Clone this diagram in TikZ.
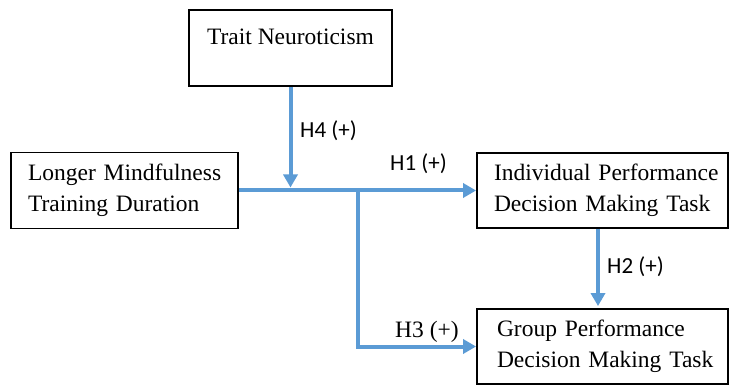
\documentclass[tikz,border=0pt]{standalone}
\usepackage{fontspec}
\setmainfont{Liberation Serif}
\newfontfamily\lblfont{Carlito}
\usetikzlibrary{arrows.meta}
\definecolor{linkblue}{HTML}{5B9BD5}
\tikzset{
  box/.style={draw=black, line width=1.8pt, rectangle, inner ysep=0pt,
    font=\fontsize{23.5}{31}\selectfont},
  twoline/.style={align=left, inner xsep=17pt},
  hlabel/.style={font=\lblfont\fontsize{23}{26}\selectfont, inner sep=0pt, anchor=west},
  slabel/.style={font=\fontsize{23.5}{26}\selectfont, inner sep=0pt, anchor=west},
  link/.style={draw=linkblue, line width=4pt, -{Triangle[length=13pt,width=14pt]}},
  plainlink/.style={draw=linkblue, line width=4pt}
}
\begin{document}
\begin{tikzpicture}[x=1pt, y=-1pt]
\useasboundingbox (0,0) rectangle (729,385);

\node[box, minimum width=203pt, inner xsep=0pt, text height=20pt, text depth=26pt, inner ysep=15pt, anchor=north]
  (trait) at (290.5,9) {Trait Neuroticism};
\node[box, twoline, minimum height=76pt, text width=193pt] (longer) at (124.5,190.5)
  {\mbox{Longer Mindfulness}\\\mbox{Training Duration}};
\node[box, twoline, minimum height=75pt, text width=217pt] (indiv) at (602.5,190.5)
  {\mbox{Individual Performance}\\\mbox{Decision Making Task}};
\node[box, align=left, inner xsep=20pt, minimum height=75pt, text width=211pt] (group) at (602.5,346.5)
  {\mbox{Group Performance}\\\mbox{Decision Making Task}};

\coordinate (branch) at (358,190.5);

\draw[plainlink] (longer.east) -- (branch);
\draw[link, shorten >=0pt] (branch) -- (indiv.west);
\draw[link] (branch) |- (group.west);
\draw[link, shorten >=3pt] (trait.south) -- (trait.south |- longer.east);
\draw[link, shorten >=2pt] ([xshift=-4.5pt]indiv.south) -- ([xshift=-4.5pt]group.north);

\node[hlabel] (h4) at (300,131) {H4 (+)};
\node[hlabel] (h1) at (390,164) {H1 (+)};
\node[hlabel] (h2) at (607,267) {H2 (+)};
\node[slabel] (h3) at (395,332) {H3 (+)};
\end{tikzpicture}
\end{document}
